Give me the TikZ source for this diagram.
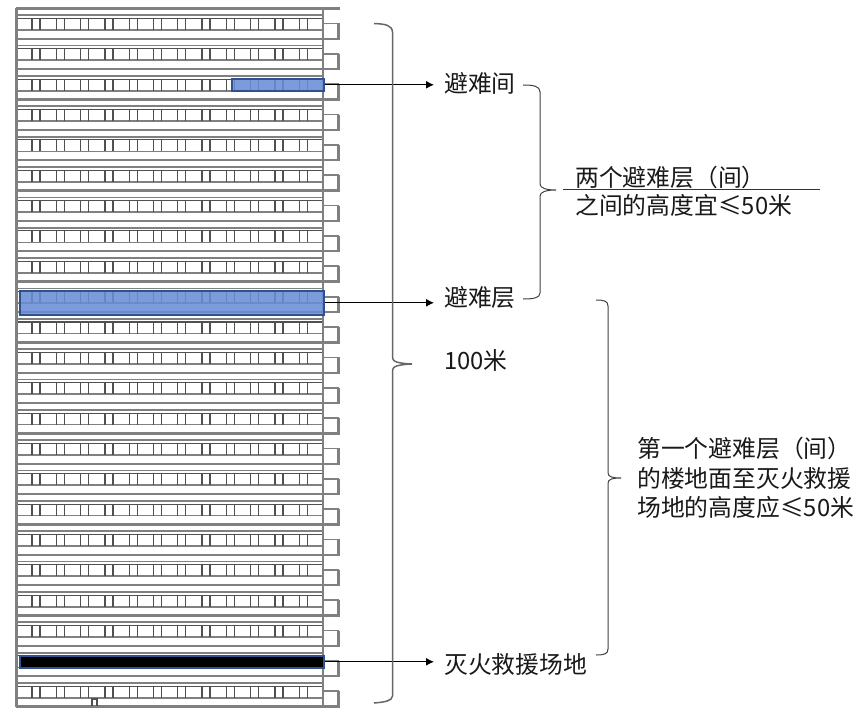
\documentclass[tikz,border=0pt]{standalone}
\usepackage{fontspec}
\setmainfont{Noto Sans CJK SC}
\usepackage{xcolor}
\usetikzlibrary{arrows.meta}
\definecolor{wallgrey}{HTML}{808080}
\definecolor{linegrey}{HTML}{505050}
\definecolor{refugeblue}{HTML}{6A8DD6}
\definecolor{refugeedge}{HTML}{2F528F}
\tikzset{
  slab/.style={draw=wallgrey, line width=2.4pt},
  midline/.style={draw=wallgrey, line width=1.7pt},
  thinline/.style={draw=linegrey, line width=1.1pt},
  mullion/.style={draw=linegrey, line width=1.3pt},
  bracket/.style={draw=black!75, line width=1pt},
  bigbracket/.style={draw=black!60, line width=1.5pt},
  leader/.style={draw=black, line width=1.1pt, -{Latex[length=8pt,width=8pt]}},
  tag/.style={font=\fontsize{23.8pt}{29.5pt}\selectfont, inner sep=0pt, text=black!90, align=left},
  refuge/.style={draw=refugeedge, line width=1.6pt, fill=refugeblue, fill opacity=.88, inner sep=0pt, minimum height=#1, anchor=north west},
}
\begin{document}
\begin{tikzpicture}[x=1pt, y=-1pt]
  \useasboundingbox (0,0) rectangle (864,719);
  % floors
  \foreach \n in {0,...,22} {
    \pgfmathsetmacro{\yy}{8.5+30.35*\n}
    \draw[slab] (16,\yy) -- (323,\yy);
    \draw[midline] (16,\yy+6.8) -- (323,\yy+6.8);
    \draw[thinline] (16,\yy+10) -- (323,\yy+10);
    \draw[midline] (16,\yy+21.5) -- (323,\yy+21.5);
    \foreach \k in {0,...,11} {
      \pgfmathsetmacro{\xx}{32+24.3*\k}
      \draw[mullion] (\xx,\yy+10) -- (\xx,\yy+21.5);
      \draw[mullion] (\xx+8,\yy+10) -- (\xx+8,\yy+21.5);
    }
    % balcony
    \draw[midline] (323,\yy+15) -- (338.5,\yy+15);
    \draw[slab] (338.5,\yy+15) -- (338.5,\yy+30.35);
    \draw[slab] (323,\yy+30.35) -- (340,\yy+30.35);
  }
  \draw[slab] (323,8.5) -- (340,8.5);
  \draw[slab] (16,706.5) -- (323,706.5);
  \draw[slab] (16.5,8) -- (16.5,707);
  \draw[slab] (323,8) -- (323,707);
  \draw[thinline] (92,706) -- (92,699) -- (97,699) -- (97,706);
  % refuge bands
  \node[refuge=12pt, minimum width=92pt] (roomband) at (231,78) {};
  \node[refuge=24pt, minimum width=304pt] (floorband) at (19,290) {};
  \node[refuge=12pt, minimum width=304pt, fill=black, fill opacity=1] (siteband) at (19,655) {};
  % labels
  \node[tag, anchor=west] (roomlabel) at (444,83) {避难间};
  \node[tag, anchor=west] (floorlabel) at (444,298) {避难层};
  \node[tag, anchor=west] (sitelabel) at (444,664) {灭火救援场地};
  \node[tag, anchor=west] (heightlabel) at (444,360) {100米};
  \node[tag, anchor=west] (uppernote) at (575,177) {两个避难层（间）};
  \node[tag, anchor=west] (lowernote) at (575,205) {之间的高度宜≤50米};
  \node[tag, anchor=west] (firstnote) at (637,478) {第一个避难层（间）\\的楼地面至灭火救援\\场地的高度应≤50米};
  % fraction bar
  \coordinate (barleft) at (563,190);
  \coordinate (barright) at (820,190);
  \draw[black!80, line width=1pt] (barleft) -- (barright);
  % arrows
  \coordinate (arrowstop) at (434,0);
  \draw[leader] (roomband.east) -- (roomband.east -| arrowstop);
  \draw[leader] (floorband.east) -- (floorband.east -| arrowstop);
  \draw[leader] (siteband.east) -- (siteband.east -| arrowstop);
  % braces
  \draw[bigbracket] (374,23.5) .. controls (385,24) and (392,25) .. (392.5,32)
    -- (392.5,358) .. controls (392.5,362) and (400,363.5) .. (412,364)
    .. controls (400,364.5) and (392.5,366) .. (392.5,370)
    -- (392.5,696) .. controls (392,701) and (385,702) .. (374,703);
  \draw[bracket] (523,85) .. controls (533,85) and (540,86) .. (540,92)
    -- (540,184) .. controls (540,188) and (546,190) .. (556,190)
    .. controls (546,190) and (540,192) .. (540,196)
    -- (540,293) .. controls (540,298) and (533,299) .. (523,299);
  \draw[bracket] (596,300) .. controls (604,300) and (608,301) .. (608,306)
    -- (608,473) .. controls (608,477) and (613,478) .. (621,478)
    .. controls (613,478) and (608,479) .. (608,483)
    -- (608,649) .. controls (608,654) and (604,655) .. (596,655);
\end{tikzpicture}
\end{document}
